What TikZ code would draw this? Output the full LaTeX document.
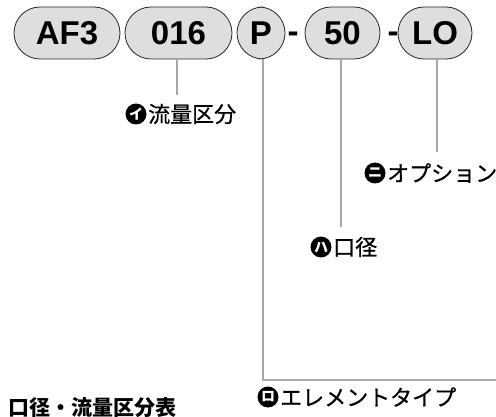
\documentclass[tikz,border=0pt]{standalone}
\usepackage{fontspec}
\setmainfont{Liberation Sans}
\newfontfamily\jp{Noto Sans CJK JP}
\newfontfamily\jpm[FakeBold=0.6]{Noto Sans CJK JP}
\definecolor{pillgray}{HTML}{DEDEDE}
\definecolor{linegray}{HTML}{A8A8A8}
\tikzset{
  pill/.style={draw=black!85, line width=0.8pt, fill=pillgray, rounded corners=26pt,
    minimum height=52pt, inner sep=0pt, text=black,
    font=\bfseries\fontsize{33}{33}\selectfont},
  dashsym/.style={inner sep=0pt, font=\bfseries\fontsize{33}{33}\selectfont},
  conn/.style={draw=linegray, line width=2pt},
  icon/.style={circle, fill=black, minimum size=21pt, inner sep=0pt, text=white,
    font=\jp\bfseries\fontsize{14}{14}\selectfont},
  lab/.style={anchor=west, inner sep=0pt, font=\jpm\fontsize{22}{22}\selectfont},
  titlelab/.style={anchor=west, inner sep=0pt, font=\jp\bfseries\fontsize{21}{21}\selectfont}
}
\begin{document}
\begin{tikzpicture}[x=1pt,y=-1pt]
\useasboundingbox (0,0) rectangle (496,417);
% code boxes
\node[pill, minimum width=106pt] (af3) at (67,33) {AF3};
\node[pill, minimum width=107pt] (b016) at (178.5,33) {016};
\node[pill, minimum width=48pt] (bp) at (261,33) {P};
\node[dashsym] (d1) at (293,37) {-};
\node[pill, minimum width=75pt] (b50) at (342.5,33) {50};
\node[dashsym] (d2) at (393,37) {-};
\node[pill, minimum width=74pt] (blo) at (435,33) {LO};
% labels
\node[icon] (i1) at (136,114) {イ};
\node[lab] (l1) at (148,114) {流量区分};
\node[icon] (i4) at (375,173) {ニ};
\node[lab] (l4) at (387,173) {オプション};
\node[icon] (i3) at (321,247) {ハ};
\node[lab] (l3) at (333,247) {口径};
\node[icon] (i2) at (268,397) {ロ};
\node[lab] (l2) at (280,397) {エレメントタイプ};
\node[titlelab] (title) at (8,408) {口径・流量区分表};
% connectors
\coordinate (c1) at (177,95);
\coordinate (c3) at (341,227);
\coordinate (c4) at (437,152);
\coordinate (pc) at (262.5,380);
\coordinate (pe) at (497,380);
\draw[conn] ([xshift=-1.5pt]b016.south) -- (c1);
\draw[conn] ([xshift=-1.5pt]b50.south) -- (c3);
\draw[conn] ([xshift=2pt]blo.south) -- (c4);
\draw[conn] ([xshift=1.5pt]bp.south) -- (pc) -- (pe);
\end{tikzpicture}
\end{document}
